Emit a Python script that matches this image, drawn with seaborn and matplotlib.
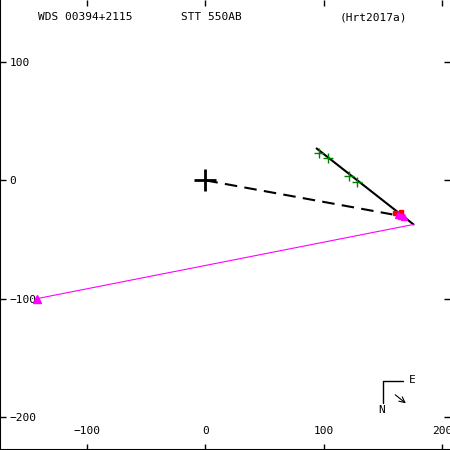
import seaborn as sns
import matplotlib.pyplot as plt
import pandas as pd

# orbit plot for WDS 00394+2115 (STT 550AB)
orbit_x = [94, 176]
orbit_y = [27, -37.3]
node_x = [0, 158]
node_y = [0, -28.8]
resid_x = [176, -142.4]
resid_y = [-37.3, -100]
green_x = [96, 104, 121, 128]
green_y = [22.9, 18.6, 3.4, -1.7]
red_x = [160, 165]
red_y = [-28, -27]
pink_x = [163, 165, 168]
pink_y = [-29, -30, -31]
xtick_vals = [-100, 0, 100, 200]
ytick_vals = [-200, -100, 0, 100]

sns.set_style("ticks")
plt.rcParams["font.family"] = ["DejaVu Sans Mono"]
plt.rcParams["text.color"] = "black"
plt.rcParams["xtick.color"] = "black"
plt.rcParams["ytick.color"] = "black"

fig = plt.figure(figsize=(4.5, 4.5), dpi=100)
ax = fig.add_axes([0, 0, 1, 1])

sns.lineplot(x=orbit_x, y=orbit_y, color="black", lw=1.5, ax=ax, sort=False)
sns.lineplot(x=node_x, y=node_y, color="black", lw=1.5, ax=ax, sort=False,
             dashes=False, linestyle=(0, (6, 3.5)))
sns.lineplot(x=resid_x, y=resid_y, color="magenta", lw=0.8, ax=ax, sort=False)
ax.plot([resid_x[1]], [resid_y[1]], marker="^", color="magenta", ms=6, ls="none")
ax.plot(green_x, green_y, marker="+", color="green", ms=7, mew=1, ls="none")
ax.plot(red_x, red_y, marker="s", color="red", ms=3, ls="none")
ax.plot(pink_x, pink_y, marker="^", color="magenta", ms=4, ls="none")
ax.plot([0], [0], marker="+", color="black", ms=16, mew=2, ls="none")

ax.set_xticks(xtick_vals)
ax.set_yticks(ytick_vals)
ax.set_xticklabels([str(v).replace("-", "\u2212") for v in xtick_vals])
ax.set_yticklabels([str(v).replace("-", "\u2212") for v in ytick_vals])
ax.set_xlim(-173.7, 206.8)
ax.set_ylim(-228, 152.5)
ax.tick_params(direction="in", length=4, width=1, top=True, right=True,
               labelsize=8, colors="black")
ax.tick_params(axis="y", pad=-7)
ax.tick_params(axis="x", pad=-10)
for lbl in ax.get_yticklabels():
    lbl.set_ha("left")
for lbl in ax.get_xticklabels():
    lbl.set_va("bottom")
ax.spines["top"].set_visible(False)
ax.spines["right"].set_visible(False)
for s in ("left", "bottom"):
    ax.spines[s].set_linewidth(1.5)
    ax.spines[s].set_color("black")

# header
ax.text(0.19, 0.962, "WDS 00394+2115", transform=ax.transAxes, ha="center", va="center", fontsize=8)
ax.text(0.47, 0.962, "STT 550AB", transform=ax.transAxes, ha="center", va="center", fontsize=8)
ax.text(0.83, 0.962, "(Hrt2017a)", transform=ax.transAxes, ha="center", va="center", fontsize=8)

# compass
def px(x, y):
    return x / 450, 1 - y / 450
ax.plot(*zip(px(383, 403), px(383, 381), px(403, 381)), color="black", lw=1,
        transform=ax.transAxes)
ax.text(*px(412, 380), "E", transform=ax.transAxes, ha="center", va="center", fontsize=8)
ax.text(*px(382, 410), "N", transform=ax.transAxes, ha="center", va="center", fontsize=8)
ax.annotate("", xy=px(408, 405), xytext=px(393, 393), xycoords="axes fraction",
            arrowprops=dict(arrowstyle="->", lw=0.8, color="black"))

fig.savefig("out.png", dpi=100)
